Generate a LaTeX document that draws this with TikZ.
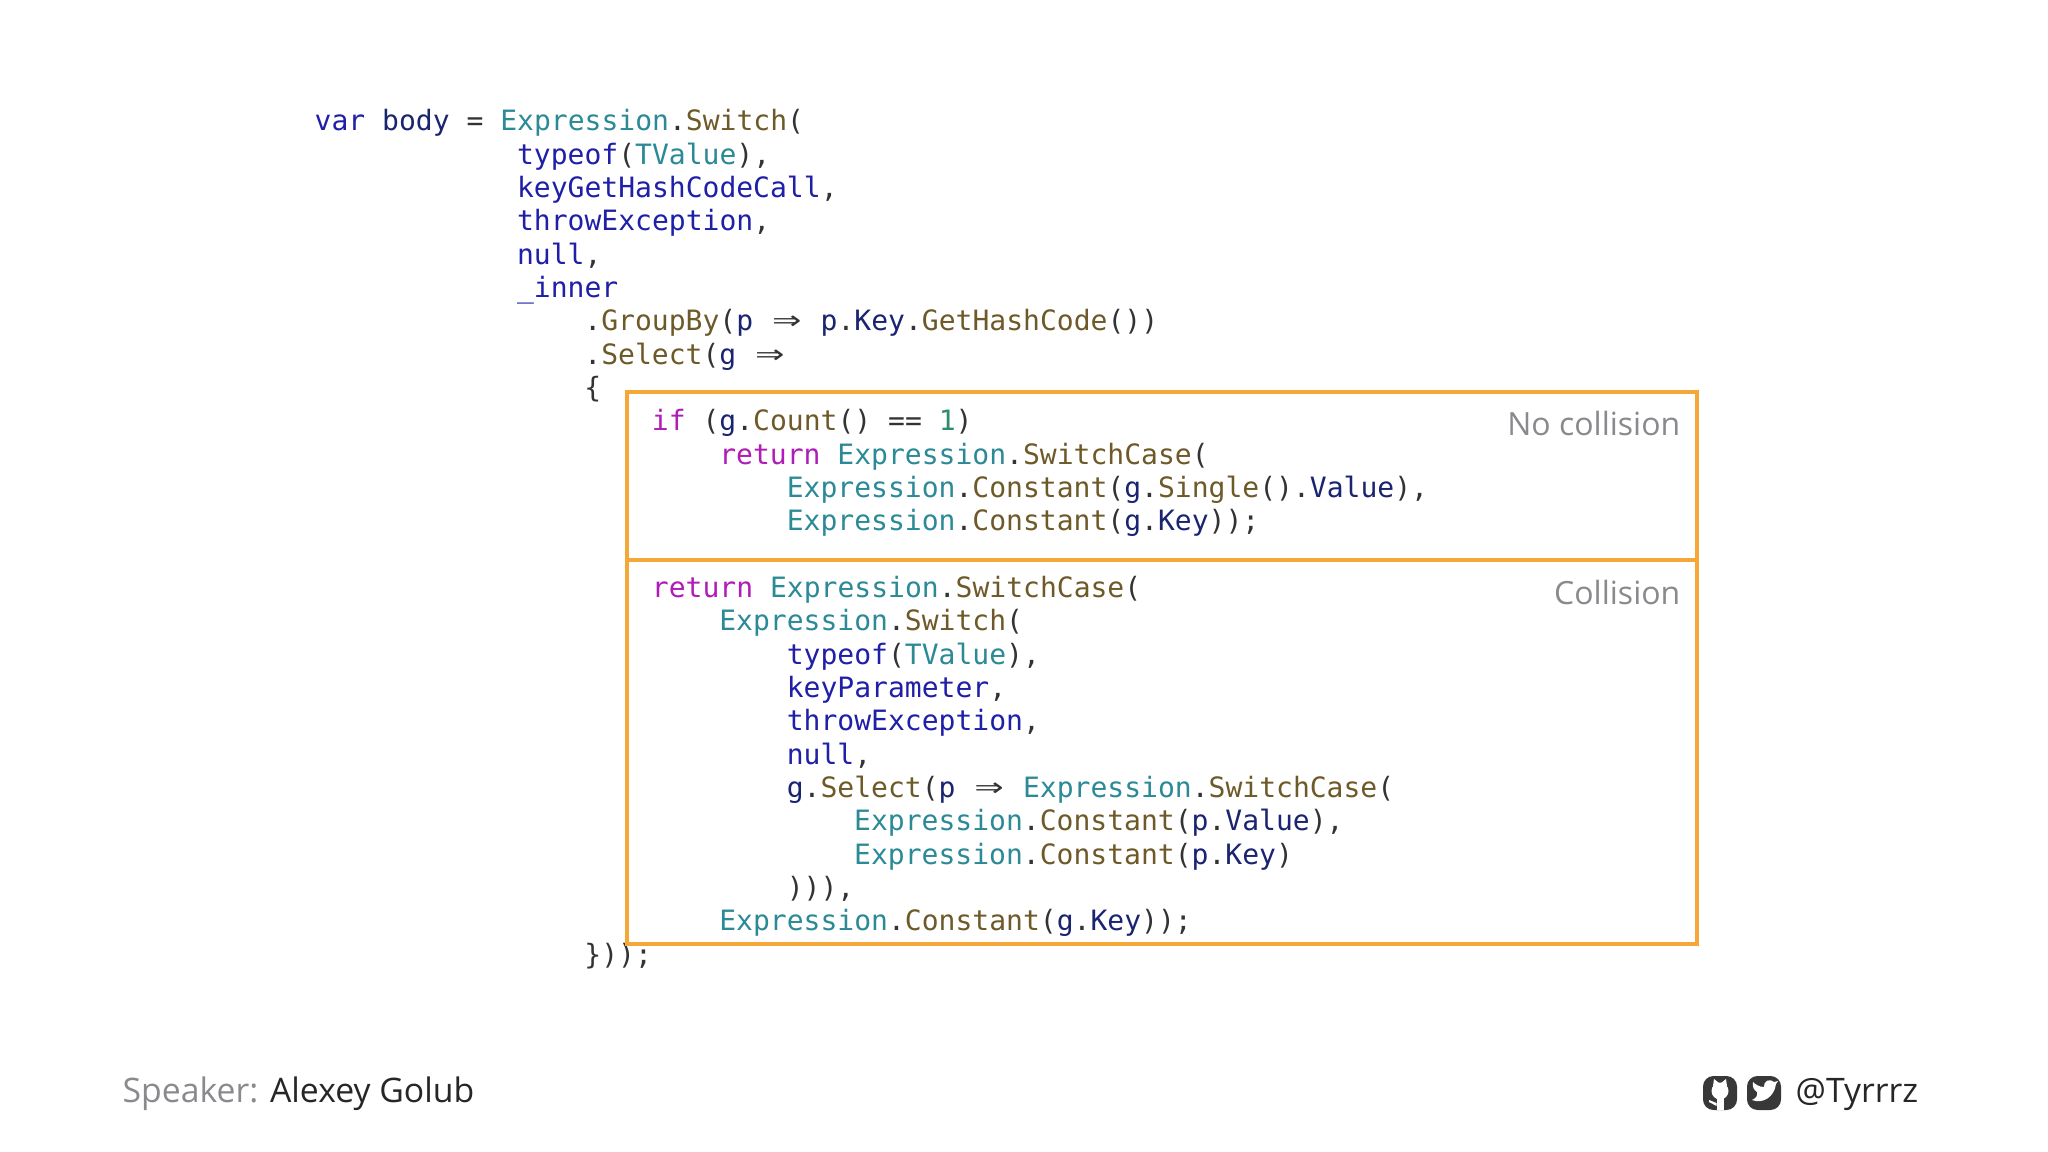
\documentclass[tikz,border=0pt]{standalone}
\usepackage{fontspec}
\setmainfont{Open Sans}
\setmonofont{DejaVu Sans Mono}
\definecolor{ckw}{HTML}{1F1FA8}
\definecolor{cty}{HTML}{2B8A96}
\definecolor{cme}{HTML}{6E5A28}
\definecolor{cct}{HTML}{B01CB8}
\definecolor{cva}{HTML}{1A2470}
\definecolor{cnu}{HTML}{2E8B6E}
\definecolor{cpu}{HTML}{333333}
\definecolor{cbox}{HTML}{F5A838}
\definecolor{cgray}{HTML}{8A8A8E}
\newcommand{\cK}[1]{\textcolor{ckw}{#1}}
\newcommand{\cT}[1]{\textcolor{cty}{#1}}
\newcommand{\cM}[1]{\textcolor{cme}{#1}}
\newcommand{\cC}[1]{\textcolor{cct}{#1}}
\newcommand{\cV}[1]{\textcolor{cva}{#1}}
\newcommand{\cN}[1]{\textcolor{cnu}{#1}}
\newcommand{\arr}{\makebox[1.204em]{\scalebox{1.7}[1.2]{⇒}}}
\begin{document}
\begin{tikzpicture}[x=0.01cm,y=-0.01cm,
  code/.style={anchor=base west,inner sep=0pt,font=\ttfamily\fontsize{7.97pt}{9pt}\selectfont,text=cpu},
  lbl/.style={anchor=base east,inner sep=0pt,font=\fontsize{9.1pt}{11pt}\selectfont,text=cgray}]
\useasboundingbox (0,0) rectangle (2048,1152);
\fill[white] (0,0) rectangle (2048,1152);
\def\cw{16.86}
\def\xz{314}
\newcommand{\codeline}[3]{\node[code] (l#1) at ({\xz+#2*\cw},{131+33.33*#1}) {#3};}
\codeline{0}{0}{\cK{var} \cV{body} = \cT{Expression}.\cM{Switch}(}
\codeline{1}{12}{\cK{typeof}(\cT{TValue}),}
\codeline{2}{12}{\cK{keyGetHashCodeCall},}
\codeline{3}{12}{\cK{throwException},}
\codeline{4}{12}{\cK{null},}
\codeline{5}{12}{\cK{\_inner}}
\codeline{6}{16}{.\cM{GroupBy}(\cV{p} \arr{} \cV{p}.\cV{Key}.\cM{GetHashCode}())}
\codeline{7}{16}{.\cM{Select}(\cV{g} \arr}
\codeline{8}{16}{\{}
\codeline{9}{20}{\cC{if} (\cV{g}.\cM{Count}() == \cN{1})}
\codeline{10}{24}{\cC{return} \cT{Expression}.\cM{SwitchCase}(}
\codeline{11}{28}{\cT{Expression}.\cM{Constant}(\cV{g}.\cM{Single}().\cV{Value}),}
\codeline{12}{28}{\cT{Expression}.\cM{Constant}(\cV{g}.\cV{Key}));}
\codeline{14}{20}{\cC{return} \cT{Expression}.\cM{SwitchCase}(}
\codeline{15}{24}{\cT{Expression}.\cM{Switch}(}
\codeline{16}{28}{\cK{typeof}(\cT{TValue}),}
\codeline{17}{28}{\cK{keyParameter},}
\codeline{18}{28}{\cK{throwException},}
\codeline{19}{28}{\cK{null},}
\codeline{20}{28}{\cV{g}.\cM{Select}(\cV{p} \arr{} \cT{Expression}.\cM{SwitchCase}(}
\codeline{21}{32}{\cT{Expression}.\cM{Constant}(\cV{p}.\cV{Value}),}
\codeline{22}{32}{\cT{Expression}.\cM{Constant}(\cV{p}.\cV{Key})}
\codeline{23}{28}{))),}
\codeline{24}{24}{\cT{Expression}.\cM{Constant}(\cV{g}.\cV{Key}));}
\codeline{25}{16}{\}));}
% boxes
\draw[cbox,line width=0.9pt] (627,392) rectangle (1697,944);
\draw[cbox,line width=0.9pt] (627,560) -- (1697,560);
\node[lbl] (nc) at (1681,436) {No collision};
\node[lbl] (co) at (1681,604) {Collision};
% footer
\node[anchor=base west,inner sep=0pt,font=\fontsize{9.6pt}{11pt}\selectfont] (sp) at (122,1102)
  {\textcolor{cgray}{Speaker:} \textcolor{black!85}{Alexey Golub}};
\fill[black!78,rounded corners=3] (1703,1076) rectangle (1737,1110);
\fill[black!78,rounded corners=3] (1747,1076) rectangle (1781,1110);
\fill[white] (1720,1091) circle (8.5);
\fill[white] (1713,1086) -- (1714,1079) -- (1719,1083) -- cycle;
\fill[white] (1727,1086) -- (1726,1079) -- (1721,1083) -- cycle;
\fill[white] (1716.5,1097) rectangle (1723.5,1110);
\fill[white] (1709,1100) -- (1716.5,1103) -- (1716.5,1106) -- (1709,1102) -- cycle;
\fill[white] (1752,1100) .. controls (1762,1104) and (1774,1098) .. (1776,1084)
  -- (1778,1081) -- (1774,1082) .. controls (1770,1078) and (1763,1081) .. (1764,1087)
  .. controls (1759,1087) and (1755,1084) .. (1753,1082) .. controls (1752,1087) and (1754,1090) .. (1757,1092)
  .. controls (1758,1096) and (1756,1098) .. (1752,1100) -- cycle;
\node[anchor=base west,inner sep=0pt,font=\fontsize{9.6pt}{11pt}\selectfont,text=black!85] (tw) at (1795,1102) {@Tyrrrz};
\end{tikzpicture}
\end{document}
